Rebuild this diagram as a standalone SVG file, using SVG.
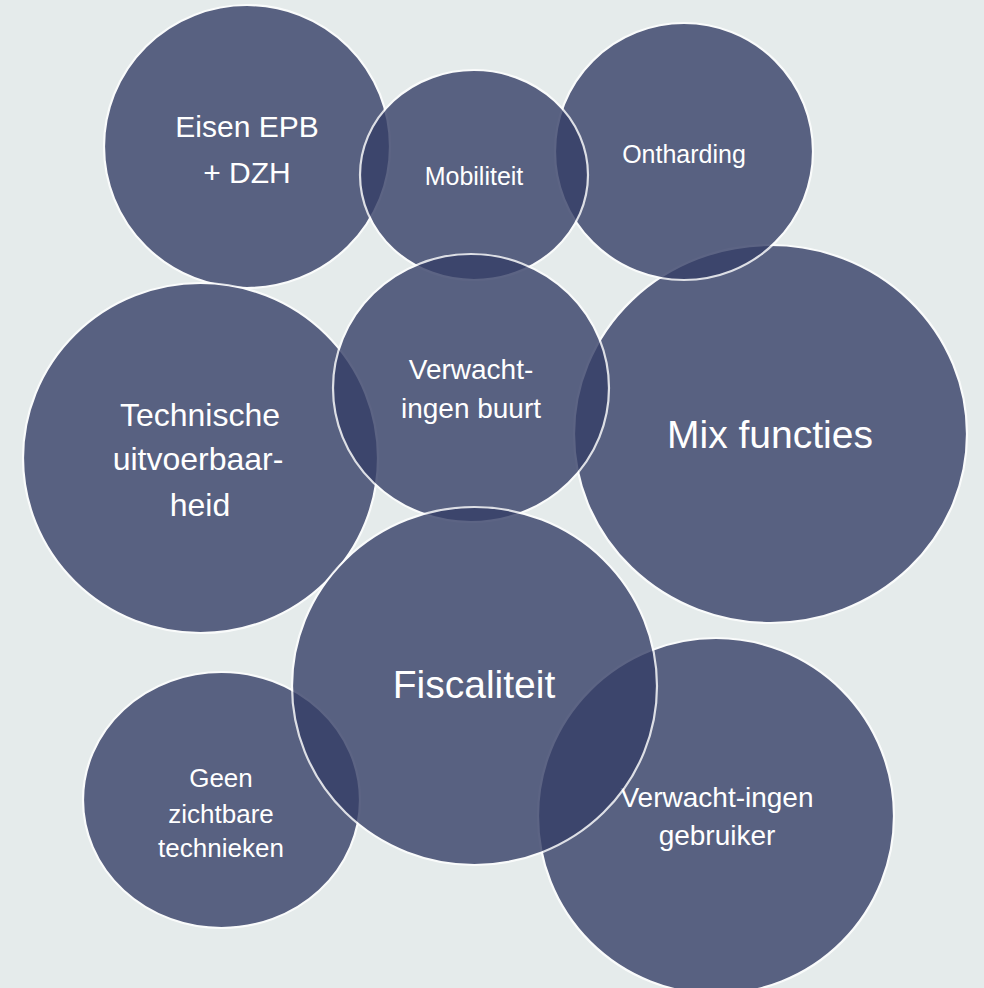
<svg xmlns="http://www.w3.org/2000/svg" width="984" height="988" viewBox="0 0 984 988">
<style>
.c{fill:#363f67;stroke:#ffffff;stroke-width:2.2;opacity:0.8}
.t{fill:#ffffff;font-family:"Liberation Sans",Arial,sans-serif;text-anchor:middle}
</style>
<rect x="0" y="0" width="984" height="988" fill="#e5ebeb"/>
<g id="connectors"></g>
<g id="eisen">
<ellipse class="c" cx="247" cy="146.5" rx="143" ry="141.5"/>
<text class="t" font-size="30" x="247" y="137">Eisen EPB</text>
<text class="t" font-size="30" x="247" y="183">+ DZH</text>
</g>
<g id="technische">
<ellipse class="c" cx="200.5" cy="458" rx="177.5" ry="175"/>
<text class="t" font-size="32" x="200" y="426">Technische</text>
<text class="t" font-size="32" x="198" y="470">uitvoerbaar-</text>
<text class="t" font-size="32" x="200" y="516">heid</text>
</g>
<g id="mix">
<ellipse class="c" cx="770.5" cy="434" rx="196.5" ry="189"/>
<text class="t" font-size="39" x="770" y="448">Mix functies</text>
</g>
<g id="ontharding">
<ellipse class="c" cx="684" cy="151.5" rx="129" ry="128.5"/>
<text class="t" font-size="25" x="684" y="163">Ontharding</text>
</g>
<g id="mobiliteit">
<ellipse class="c" cx="474" cy="175" rx="114" ry="105"/>
<text class="t" font-size="25" x="474" y="185">Mobiliteit</text>
</g>
<g id="buurt">
<ellipse class="c" cx="471" cy="388" rx="138" ry="134"/>
<text class="t" font-size="28" x="471" y="379">Verwacht-</text>
<text class="t" font-size="28" x="471" y="418">ingen buurt</text>
</g>
<g id="geen">
<ellipse class="c" cx="221.5" cy="800" rx="138.5" ry="128"/>
<text class="t" font-size="26" x="221" y="787">Geen</text>
<text class="t" font-size="26" x="221" y="823">zichtbare</text>
<text class="t" font-size="26" x="221" y="857">technieken</text>
</g>
<g id="gebruiker">
<ellipse class="c" cx="716" cy="816" rx="178" ry="178"/>
<text class="t" font-size="28" x="717" y="807">Verwacht-ingen</text>
<text class="t" font-size="28" x="717" y="845">gebruiker</text>
</g>
<g id="fiscaliteit">
<ellipse class="c" cx="474.5" cy="686" rx="182.5" ry="179"/>
<text class="t" font-size="39" x="474" y="698">Fiscaliteit</text>
</g>
</svg>
